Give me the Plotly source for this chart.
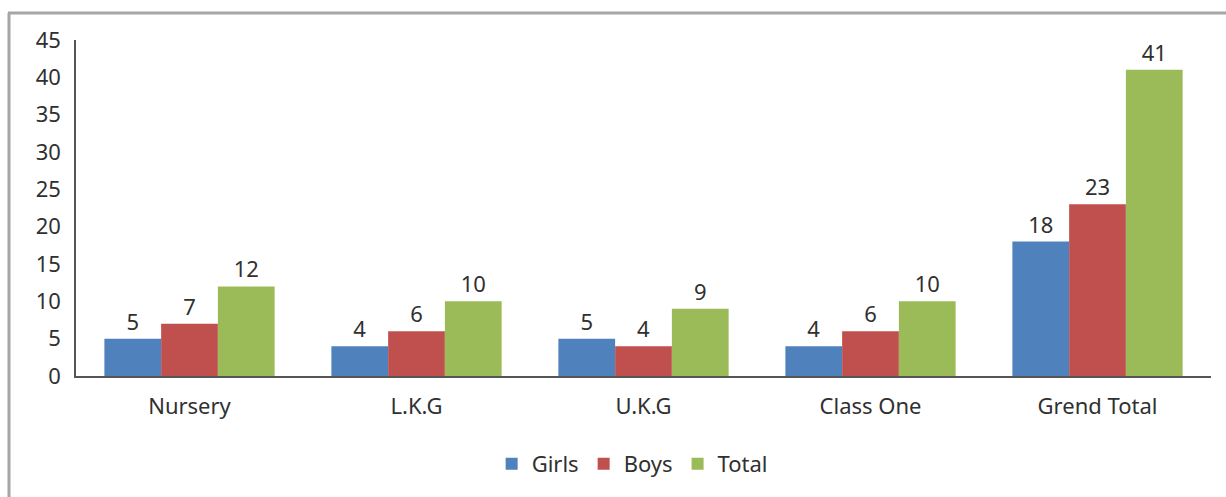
import plotly.graph_objects as go

categories = ["Nursery", "L.K.G", "U.K.G", "Class One", "Grend Total"]
girls = [5, 4, 5, 4, 18]
boys = [7, 6, 4, 6, 23]
total = [12, 10, 9, 10, 41]
y_ticks = [0, 5, 10, 15, 20, 25, 30, 35, 40, 45]

W, H = 1226, 497
L, R, T, B = 76, 15, 40, 121
pw, ph = W - L - R, H - T - B

def px(x):
    return (x - L) / pw

def py(y):
    return (H - B - y) / ph

font = "Noto Sans, Open Sans, sans-serif"
tc = "#303030"
fs = 22

fig = go.Figure()
for name, vals, col in [("Girls", girls, "#4F81BD"), ("Boys", boys, "#C0504D"), ("Total", total, "#9BBB59")]:
    fig.add_trace(go.Bar(
        x=categories, y=vals, name=name,
        marker=dict(color=col, line=dict(width=0)),
        text=vals, textposition="outside", cliponaxis=False,
        textfont=dict(size=fs, color=tc, family=font),
    ))

fig.update_layout(
    width=W, height=H,
    margin=dict(l=L, r=R, t=T, b=B),
    plot_bgcolor="white", paper_bgcolor="white",
    barmode="group", bargap=0.25, bargroupgap=0,
    font=dict(family=font, size=fs, color=tc),
    showlegend=True,
    legend=dict(orientation="h", x=0.49, xanchor="center", y=py(464), yanchor="middle",
                font=dict(size=fs, color=tc), itemwidth=30, traceorder="normal"),
    uniformtext=dict(mode=False),
)
fig.update_xaxes(showline=True, linecolor="#555555", linewidth=1.5, ticks="",
                 tickfont=dict(size=fs, color=tc), ticklabelstandoff=10, showgrid=False)
fig.update_yaxes(range=[0, 45], tickvals=y_ticks, showline=True, linecolor="#555555", linewidth=1.5,
                 ticks="", showgrid=False, zeroline=False,
                 tickfont=dict(size=fs, color=tc), ticklabelstandoff=9)

# chart border (left and top visible)
fig.add_shape(type="line", xref="paper", yref="paper",
              x0=px(9), x1=px(9), y0=py(H + 5), y1=py(13),
              line=dict(color="#A6A6A6", width=3))
fig.add_shape(type="line", xref="paper", yref="paper",
              x0=px(8), x1=px(W + 5), y0=py(13), y1=py(13),
              line=dict(color="#A6A6A6", width=3))

fig.write_html("out.html", config={"displayModeBar": False},
               post_script="document.body.style.margin='0px';")
